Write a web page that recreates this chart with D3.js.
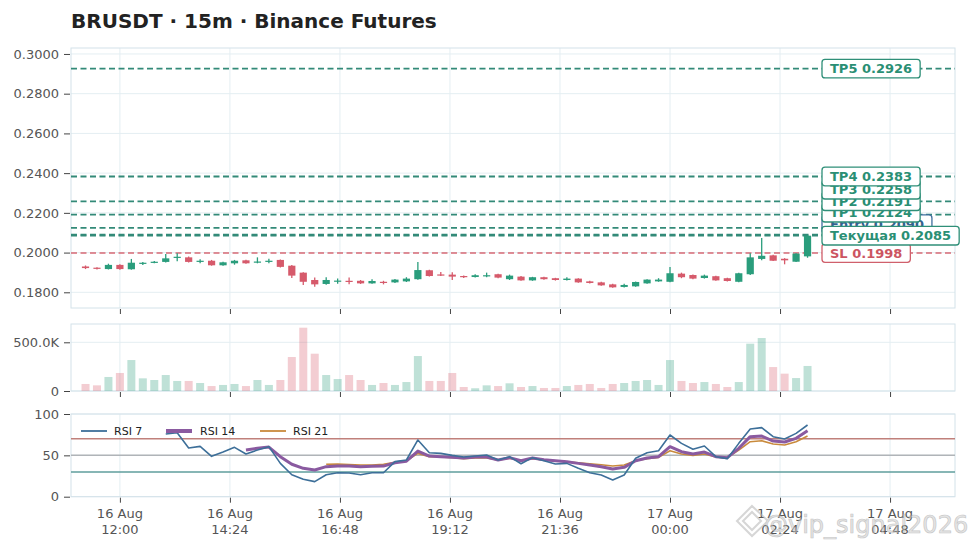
<!DOCTYPE html>
<html><head><meta charset="utf-8">
<script src="https://cdn.jsdelivr.net/npm/d3@7"></script>
<style>body{margin:0;background:#fff;} svg{display:block;font-family:"DejaVu Sans",sans-serif;}</style>
</head><body><svg id="c" width="971" height="548"></svg>
<script>
// ---------- DATA ----------
const startTime = "2025-08-16T11:15:00Z"; // first candle, 15m interval
const open  = [.1930,.1924,.1917,.1938,.1916,.1944,.1949,.1953,.1974,.1976,
  .1954,.1959,.1936,.1946,.1961,.1950,.1954,.1963,.1934,.1899,
  .1862,.1842,.1854,.1858,.1858,.1845,.1853,.1850,.1855,.1866,
  .1911,.1890,.1889,.1882,.1877,.1881,.1891,.1866,.1879,.1860,
  .1876,.1871,.1862,.1869,.1855,.1850,.1840,.1827,.1830,.1845,
  .1855,.1853,.1894,.1887,.1872,.1881,.1871,.1853,.1891,.1968,
  .1986,.1969,.1954,.1981];
const high  = [.1935,.1926,.1944,.1941,.1968,.1953,.1958,.1993,.1997,.1980,
  .1966,.1963,.1954,.1963,.1964,.1976,.1969,.1965,.1938,.1901,
  .1874,.1876,.1869,.1874,.1862,.1866,.1858,.1867,.1876,.1953,
  .1913,.1902,.1901,.1885,.1891,.1899,.1893,.1889,.1882,.1878,
  .1878,.1873,.1876,.1871,.1858,.1853,.1843,.1843,.1854,.1866,
  .1871,.1928,.1899,.1890,.1889,.1883,.1873,.1898,.1997,.2074,
  .1989,.1972,.1997,.2087];
const low   = [.1917,.1915,.1915,.1914,.1914,.1938,.1946,.1950,.1956,.1950,
  .1946,.1934,.1934,.1939,.1944,.1946,.1946,.1925,.1872,.1837,
  .1828,.1838,.1843,.1840,.1842,.1843,.1840,.1847,.1852,.1863,
  .1880,.1882,.1862,.1872,.1875,.1876,.1871,.1862,.1858,.1858,
  .1863,.1859,.1859,.1848,.1844,.1833,.1823,.1824,.1828,.1843,
  .1853,.1851,.1871,.1866,.1869,.1858,.1854,.1851,.1887,.1961,
  .1957,.1941,.1952,.1974];
const close = [.1922,.1918,.1938,.1917,.1949,.1949,.1954,.1971,.1979,.1953,
  .1959,.1936,.1951,.1959,.1946,.1955,.1959,.1928,.1884,.1853,
  .1840,.1862,.1859,.1854,.1845,.1857,.1847,.1864,.1869,.1912,
  .1882,.1886,.1879,.1876,.1886,.1886,.1874,.1884,.1860,.1876,
  .1866,.1862,.1869,.1850,.1847,.1835,.1825,.1837,.1852,.1864,
  .1864,.1896,.1876,.1869,.1884,.1860,.1857,.1896,.1976,.1984,
  .1959,.1961,.1995,.2085];
const volume = [72,58,144,185,318,130,113,164,103,103,
  82,51,62,72,51,113,62,113,349,650,
  383,164,123,164,113,62,82,62,92,359,
  103,103,185,41,28,58,51,79,41,51,
  31,31,51,62,72,31,72,82,103,113,
  62,318,103,82,92,72,41,92,486,544,
  246,178,133,257].map(v=>v*1000);
const rsi7 = [null,null,null,null,null,null,null,75.8,77.4,58.9,
  60.9,48.8,54,59.7,51.6,56.4,60.5,40.3,26.6,21,
  18.2,26.6,29,28.6,26.6,29,29,42.4,44.4,68.6,
  53.2,52.4,50,48,49.2,50.4,44.4,48.4,39.9,47.2,
  43.5,39.5,40.3,34.3,29,26.2,20.2,26.2,46.4,53.2,
  55.6,74.6,64.5,57.3,61.3,48.4,46,64.5,81.8,83.5,
  72.6,69.8,76.6,86.7];
const rsi14 = [null,null,null,null,null,null,null,null,null,null,
  null,null,null,null,56.4,58.5,60,48.4,39.2,34.3,
  32.3,36.3,37.1,37,36.3,36.7,37,41.1,43,55.2,
  49.2,48.4,47.6,46.8,48,48,44.4,47.2,43.5,46.8,
  44.8,43.5,42.3,40.3,38.3,36.3,33.5,35.5,43.5,46.8,
  48.4,60.5,54.4,51.6,54,48.4,47.2,58.5,72.6,73.4,
  67.3,66.1,70.6,79.8];
const rsi21 = [null,null,null,null,null,null,null,null,null,null,
  null,null,null,null,null,null,null,null,null,null,
  null,39.2,39.6,38.8,38.3,38.3,39.2,41.5,43.5,52.4,
  48.4,48,47.2,46,46.8,46.8,44.4,46.4,43.5,46,
  44.4,43.5,42.3,41.1,39.9,38.7,37.1,38.3,43.5,46,
  47.6,55.6,51.6,50,51.6,48,47.2,56.4,66.5,67.7,
  63.7,62.5,66.5,73.4];
const levelNames  = ["SL","Entry","Текущая","TP1","TP2","TP3","TP4","TP5"];
const levelValues = [0.1998,0.2090,0.2085,0.2124,0.2191,0.2258,0.2383,0.2926];
const levelKinds  = ["sl","entry","cur","tp","tp","tp","tp","tp"];
const priceTicks = [0.18,0.20,0.22,0.24,0.26,0.28,0.30];
const volTicks = [0,500000];
const rsiTicks = [0,50,100];
const xTickStart = "2025-08-16T12:00:00Z", xTickStepMin = 144, xTickCount = 8;

// ---------- SETUP ----------
const MIN = 60000;
const t0 = new Date(startTime).getTime();
const times = open.map((_,i)=>new Date(t0 + i*15*MIN));
const svg = d3.select("#c");
const L = 71, R = 955;
const P = {top:48, bot:308}, V = {top:324, bot:391}, Q = {top:414, bot:496.7};
const x = d3.scaleUtc().domain([new Date(t0-19*MIN), new Date(times[times.length-1].getTime()+193*MIN)]).range([L,R]);
const yP = d3.scaleLinear().domain([0.1721,0.3030]).range([P.bot,P.top]);
const yV = d3.scaleLinear().domain([0,688000]).range([V.bot,V.top]);
const yR = d3.scaleLinear().domain([0,100]).range([Q.bot,Q.top]);
const xTicks = d3.range(xTickCount).map(k=>new Date(new Date(xTickStart).getTime()+k*xTickStepMin*MIN));

const GREEN="#2a9d7c", RED="#d65a6b", GRID="#e4eef2", BORDER="#d3e2e9", TICKC="#555";

svg.append("rect").attr("width",971).attr("height",548).attr("fill","#fff");
svg.append("text").attr("x",71).attr("y",28).attr("font-size",20).attr("font-weight","bold").attr("fill","#222")
  .text("BRUSDT · 15m · Binance Futures");

function panel(top,bot,yScale,ticks,fmt){
  const g = svg.append("g");
  g.selectAll(".hg").data(ticks).join("line").attr("x1",L).attr("x2",R)
    .attr("y1",d=>yScale(d)).attr("y2",d=>yScale(d)).attr("stroke",GRID).attr("stroke-width",1);
  g.selectAll(".vg").data(xTicks).join("line").attr("y1",top).attr("y2",bot)
    .attr("x1",d=>x(d)).attr("x2",d=>x(d)).attr("stroke",GRID).attr("stroke-width",1);
  g.append("rect").attr("x",L).attr("y",top).attr("width",R-L).attr("height",bot-top)
    .attr("fill","none").attr("stroke",BORDER).attr("stroke-width",1);
  const ya = d3.axisLeft(yScale).tickValues(ticks).tickFormat(fmt).tickSize(6).tickPadding(5);
  const ga = svg.append("g").attr("transform",`translate(${L-1},0)`).call(ya);
  ga.select(".domain").remove();
  ga.selectAll("text").attr("font-size",13).attr("fill",TICKC).attr("font-family","DejaVu Sans");
  ga.selectAll("line").attr("stroke","#444");
  const xa = d3.axisBottom(x).tickValues(xTicks).tickFormat("").tickSize(5);
  const gx = svg.append("g").attr("transform",`translate(0,${bot+1})`).call(xa);
  gx.select(".domain").remove();
  gx.selectAll("line").attr("stroke","#444");
  return g;
}
panel(P.top,P.bot,yP,priceTicks,d3.format(".4f"));
panel(V.top,V.bot,yV,volTicks,d=>d===0?"0":d3.format(".1f")(d/1000)+"K");
panel(Q.top,Q.bot,yR,rsiTicks,d3.format("d"));

// x labels
const xl = svg.append("g");
xTicks.forEach(t=>{
  const tx = xl.append("text").attr("x",x(t)).attr("text-anchor","middle").attr("font-size",13).attr("fill",TICKC);
  tx.append("tspan").attr("x",x(t)).attr("y",518).text(d3.utcFormat("%-d %b")(t));
  tx.append("tspan").attr("x",x(t)).attr("y",534).text(d3.utcFormat("%H:%M")(t));
});

// ---------- level lines ----------
const lvLine  = k => k==="sl"?"#d66a76":"#338a78";
const lvColor = k => k==="sl"?"#d0606c":(k==="entry"?"#3f6e9e":"#2f8f78");
const lvText  = k => k==="sl"?"#cc5562":(k==="entry"?"#35628f":"#2a8f74");
levelValues.forEach((v,i)=>{
  svg.append("line").attr("x1",L).attr("x2",R).attr("y1",yP(v)).attr("y2",yP(v))
    .attr("stroke",lvLine(levelKinds[i])).attr("stroke-width",levelKinds[i]==="sl"?1.5:1.8)
    .attr("stroke-dasharray","6,3.5");
});

// ---------- candles ----------
const cg = svg.append("g");
times.forEach((t,i)=>{
  const up = close[i]>=open[i], col = up?GREEN:RED, cx = x(t);
  cg.append("line").attr("x1",cx).attr("x2",cx).attr("y1",yP(high[i])).attr("y2",yP(low[i]))
    .attr("stroke",col).attr("stroke-width",1.3);
  const y1 = yP(Math.max(open[i],close[i])), y2 = yP(Math.min(open[i],close[i]));
  cg.append("rect").attr("x",cx-3.6).attr("width",7.2).attr("y",y1).attr("height",Math.max(1.2,y2-y1)).attr("fill",col);
});

// ---------- volume ----------
svg.append("g").selectAll("rect").data(times).join("rect")
  .attr("x",d=>x(d)-4).attr("width",8)
  .attr("y",(d,i)=>yV(volume[i])).attr("height",(d,i)=>yV(0)-yV(volume[i]))
  .attr("fill",(d,i)=>close[i]>=open[i]?GREEN:RED).attr("opacity",0.3);

// ---------- RSI ----------
[[70,"#c0807b"],[50,"#b0b4b8"],[30,"#5f9e9c"]].forEach(([v,c])=>{
  svg.append("line").attr("x1",L).attr("x2",R).attr("y1",yR(v)).attr("y2",yR(v)).attr("stroke",c).attr("stroke-width",1.5);
});
const rsiSeries = [[rsi7,"#3d6f99",1.6,"RSI 7"],[rsi14,"#8a5aa0",3,"RSI 14"],[rsi21,"#c98a3c",1.6,"RSI 21"]];
const lineGen = arr => d3.line().defined((d,i)=>arr[i]!==null).x(d=>x(d)).y((d,i)=>yR(arr[i]));
rsiSeries.slice().reverse().forEach(([arr,c,w])=>{
  svg.append("path").attr("d",lineGen(arr)(times)).attr("fill","none").attr("stroke",c).attr("stroke-width",w)
    .attr("stroke-linejoin","round");
});
// legend
const legX = [[81,114],[166,200],[260,293]];
rsiSeries.forEach(([arr,c,w,name],i)=>{
  svg.append("line").attr("x1",legX[i][0]).attr("x2",legX[i][0]+26).attr("y1",431).attr("y2",431)
    .attr("stroke",c).attr("stroke-width",i===1?4:1.8);
  svg.append("text").attr("x",legX[i][1]).attr("y",435).attr("font-size",11).attr("fill","#222").text(name);
});

// ---------- level labels ----------
const gap = 11.5, boxH = 18.6, boxX = 822;
const order = levelValues.map((v,i)=>i).sort((a,b)=>levelValues[a]-levelValues[b]);
const labY = {};
let prev = null;
order.forEach(i=>{
  let y = yP(levelValues[i]);
  if(prev!==null && y > prev - gap) y = prev - gap;
  labY[i] = y; prev = y;
});
const drawOrder = [0,1,2,3,4,5,6,7];
drawOrder.forEach(i=>{
  const k = levelKinds[i], y = labY[i];
  const g = svg.append("g");
  const r = g.append("rect").attr("x",boxX).attr("y",y-boxH/2).attr("height",boxH).attr("rx",3)
    .attr("fill","#fff").attr("stroke",lvColor(k)).attr("stroke-width",1.3);
  const tx = g.append("text").attr("x",boxX+8).attr("y",y).attr("dy","0.36em").attr("font-size",13)
    .attr("font-weight","bold").attr("fill",lvText(k)).text(levelNames[i]+" "+levelValues[i].toFixed(4));
  r.attr("width",tx.node().getComputedTextLength()+16);
});

// ---------- watermark ----------
const wm = svg.append("g").attr("opacity",0.55);
wm.append("path").attr("d","M752,506 L768,521 L752,536 L737,521 Z M752,512 L761,521 L752,530 L743,521 Z")
  .attr("fill","none").attr("stroke","#b5b5b5").attr("stroke-width",2);
wm.append("text").attr("x",764).attr("y",533).attr("font-size",24).attr("fill","#d0d0d0")
  .attr("stroke","#9a9a9a").attr("stroke-width",0.7).text("@vip_signal2026");
</script></body></html>
